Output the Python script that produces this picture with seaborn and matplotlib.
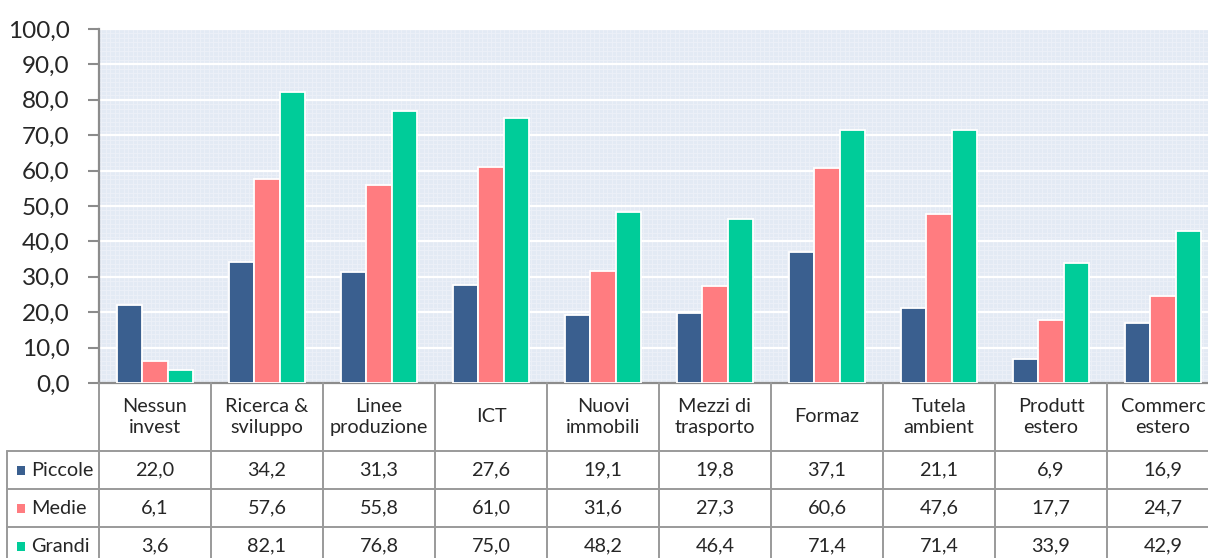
import matplotlib
matplotlib.use("Agg")
import matplotlib.pyplot as plt
import seaborn as sns
import pandas as pd
import numpy as np
from matplotlib.ticker import FuncFormatter, MultipleLocator
from matplotlib.patches import Rectangle

categorie = ["Nessun\ninvest", "Ricerca &\nsviluppo", "Linee\nproduzione", "ICT",
             "Nuovi\nimmobili", "Mezzi di\ntrasporto", "Formaz", "Tutela\nambient",
             "Produtt\nestero", "Commerc\nestero"]
serie = ["Piccole", "Medie", "Grandi"]
piccole = [22.0, 34.2, 31.3, 27.6, 19.1, 19.8, 37.1, 21.1, 6.9, 16.9]
medie = [6.1, 57.6, 55.8, 61.0, 31.6, 27.3, 60.6, 47.6, 17.7, 24.7]
grandi = [3.6, 82.1, 76.8, 75.0, 48.2, 46.4, 71.4, 71.4, 33.9, 42.9]
colori = ["#3a5f8f", "#ff7c80", "#00cc99"]

valori = {"Piccole": piccole, "Medie": medie, "Grandi": grandi}
rows = []
for s in serie:
    for c, v in zip(categorie, valori[s]):
        rows.append([c, s, v])
df = pd.DataFrame(rows, columns=["categoria", "serie", "valore"])

def fmt(v):
    return f"{v:.1f}".replace(".", ",")

sns.set_style("white")
plt.rcParams["font.family"] = ["Lato", "DejaVu Sans"]

W, H = 1208, 558
fig = plt.figure(figsize=(W / 100, H / 100), dpi=100)
ax_left, ax_right, ax_top, ax_bot = 99, 1219, 29, 383
ax = fig.add_axes([ax_left / W, (H - ax_bot) / H, (ax_right - ax_left) / W, (ax_bot - ax_top) / H])
ax.set_facecolor("#e3eaf4")

sns.barplot(data=df, x="categoria", y="valore", hue="serie", palette=colori, saturation=1,
            width=0.67, edgecolor="white", linewidth=1.3, legend=False, ax=ax, zorder=3)

ax.set_xlim(-0.5, len(categorie) - 0.5)
ax.set_ylim(0, 100)
ax.yaxis.set_major_locator(MultipleLocator(10))
ax.yaxis.set_major_formatter(FuncFormatter(lambda v, p: fmt(v)))
ax.yaxis.set_minor_locator(MultipleLocator(1.25))
ax.xaxis.set_minor_locator(MultipleLocator(0.04))
ax.grid(True, which="major", axis="y", color="white", linewidth=1.6, zorder=1)
ax.grid(True, which="minor", color="#edf1f8", linewidth=0.6, zorder=0)
ax.set_axisbelow(True)
ax.set_xlabel("")
ax.set_ylabel("")
ax.set_xticks([])
ax.tick_params(axis="y", which="major", left=True, length=8, width=1.5, color="#8c8c8c",
               labelsize=17.5, pad=13)
ax.tick_params(axis="y", which="minor", left=False)
for side in ["top", "right"]:
    ax.spines[side].set_visible(False)
for side in ["left", "bottom"]:
    ax.spines[side].set_color("#8c8c8c")
    ax.spines[side].set_linewidth(1.6)

# tabella dati sotto il grafico
axh = ax_bot - ax_top
px_col = (ax_right - ax_left) / len(categorie)
def xd(px):
    return -0.5 + (px - ax_left) / px_col
def ya(py):
    return (ax_bot - py) / axh

tr = ax.get_xaxis_transform()
grigio = "#9a9a9a"
lw = 1.4
head_b = 451
row_h = 38
table_bottom = head_b + row_h * 3
n = len(categorie)
fs = 14.3

for i in range(n + 1):
    ax.plot([i - 0.5, i - 0.5], [ya(ax_bot), ya(table_bottom)], transform=tr, color=grigio,
            lw=lw, clip_on=False, zorder=5)
ax.plot([xd(7), xd(7)], [ya(head_b), ya(table_bottom)], transform=tr, color=grigio,
        lw=lw, clip_on=False)
for r in range(4):
    yy = ya(head_b + r * row_h)
    ax.plot([xd(7), n - 0.5], [yy, yy], transform=tr, color=grigio, lw=lw, clip_on=False)

for i, c in enumerate(categorie):
    ax.text(i, ya((ax_bot + head_b) / 2), c, transform=tr, ha="center", va="center",
            fontsize=fs, linespacing=1.25, clip_on=False)

for r, s in enumerate(serie):
    yc = ya(head_b + row_h * r + row_h / 2)
    ax.add_patch(Rectangle((xd(17), yc - 4.5 / axh), 8 / px_col, 9 / axh, transform=tr,
                           facecolor=colori[r], edgecolor="none", clip_on=False))
    ax.text(xd(31), yc, s, transform=tr, ha="left", va="center", fontsize=fs, clip_on=False)
    for i, v in enumerate(valori[s]):
        ax.text(i, yc, fmt(v), transform=tr, ha="center", va="center", fontsize=fs,
                clip_on=False)

fig.savefig("out.png", dpi=100)
